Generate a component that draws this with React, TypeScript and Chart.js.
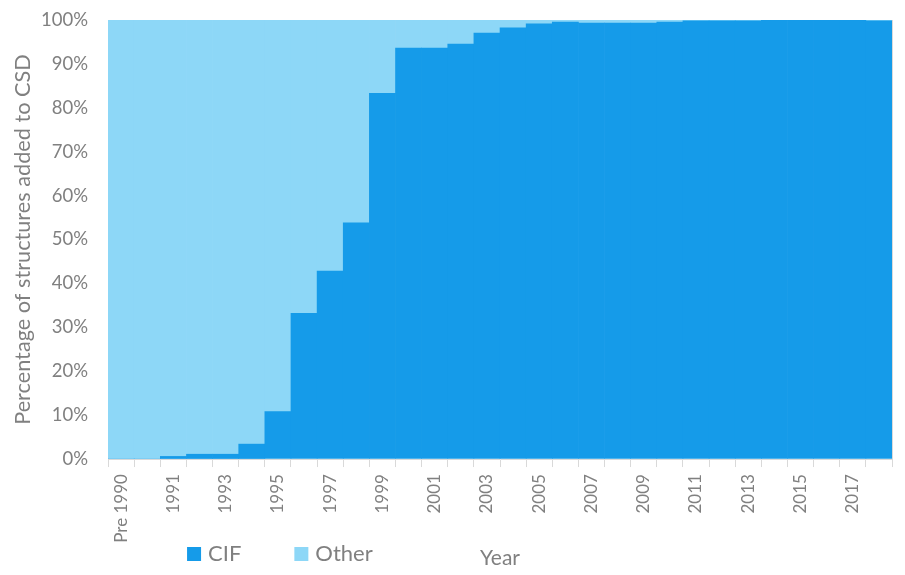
import React, { useEffect, useRef } from 'react';
import { Chart, registerables } from 'chart.js';

Chart.register(...registerables);

const categories = [
  'Pre 1990', '1990', '1991', '1992', '1993', '1994', '1995', '1996', '1997', '1998',
  '1999', '2000', '2001', '2002', '2003', '2004', '2005', '2006', '2007', '2008',
  '2009', '2010', '2011', '2012', '2013', '2014', '2015', '2016', '2017', '2018',
];

const cifValues = [
  0, 0, 0.6, 1.1, 1.1, 3.4, 10.8, 33.2, 42.8, 53.8,
  83.3, 93.6, 93.6, 94.5, 97.0, 98.2, 99.1, 99.5, 99.3, 99.3,
  99.3, 99.5, 99.8, 99.8, 99.8, 99.9, 99.9, 99.9, 99.9, 99.8,
];

const otherValues = [
  100, 100, 99.4, 98.9, 98.9, 96.6, 89.2, 66.8, 57.2, 46.2,
  16.7, 6.4, 6.4, 5.5, 3.0, 1.8, 0.9, 0.5, 0.7, 0.7,
  0.7, 0.5, 0.2, 0.2, 0.2, 0.1, 0.1, 0.1, 0.1, 0.2,
];

const seriesNames = ['CIF', 'Other'];
const seriesColors = ['#159be9', '#8dd7f7'];

const FONT = 'Lato';
const TEXT = '#808080';
const LINE = '#d9d9d9';

const customLegend = {
  id: 'customLegend',
  afterDraw(chart: any) {
    const ctx = chart.ctx;
    const area = chart.chartArea;
    ctx.save();
    ctx.font = `22px ${FONT}`;
    ctx.textBaseline = 'middle';
    ctx.textAlign = 'left';
    let x = area.left + 79;
    const y = 554;
    chart.data.datasets.forEach((ds: any) => {
      ctx.fillStyle = ds.backgroundColor;
      ctx.fillRect(x, y - 7, 14, 14);
      ctx.fillStyle = TEXT;
      ctx.fillText(ds.label, x + 21, y);
      x += 21 + ctx.measureText(ds.label).width + 53;
    });
    // right plot edge line
    ctx.strokeStyle = LINE;
    ctx.lineWidth = 1;
    ctx.beginPath();
    ctx.moveTo(Math.round(area.right) + 0.5, area.top);
    ctx.lineTo(Math.round(area.right) + 0.5, area.bottom);
    ctx.stroke();
    ctx.restore();
  },
};

export default function App() {
  const ref = useRef<HTMLCanvasElement>(null);

  useEffect(() => {
    if (!ref.current) return;
    const chart = new Chart(ref.current, {
      type: 'bar',
      data: {
        labels: categories,
        datasets: [
          { label: seriesNames[0], data: cifValues, backgroundColor: seriesColors[0], borderWidth: 0, barPercentage: 1, categoryPercentage: 1 },
          { label: seriesNames[1], data: otherValues, backgroundColor: seriesColors[1], borderWidth: 0, barPercentage: 1, categoryPercentage: 1 },
        ],
      },
      options: {
        animation: false,
        responsive: false,
        layout: { padding: { top: 20, right: 13, bottom: 4.4, left: 0 } },
        plugins: {
          legend: { display: false },
          tooltip: { enabled: false },
        },
        scales: {
          x: {
            stacked: true,
            offset: true,
            grid: { display: true, drawOnChartArea: false, offset: true, tickLength: 8, color: LINE },
            border: { display: true, color: LINE },
            ticks: {
              autoSkip: false,
              maxRotation: 90,
              minRotation: 90,
              padding: 7,
              color: TEXT,
              font: { family: FONT, size: 17, lineHeight: 1.1 },
              callback: (_v: any, i: number) => (i % 2 === 0 ? categories[i] : ''),
            },
            title: {
              display: true,
              text: 'Year',
              color: TEXT,
              font: { family: FONT, size: 21 },
              padding: { top: -4.3, bottom: 0 },
            },
          },
          y: {
            stacked: true,
            min: 0,
            max: 100,
            grid: {
              display: true,
              drawOnChartArea: false,
              drawTicks: true,
              tickLength: 17,
              tickColor: 'rgba(0,0,0,0)',
              color: LINE,
            },
            border: { display: true, color: LINE },
            ticks: {
              stepSize: 10,
              padding: 3,
              color: TEXT,
              font: { family: FONT, size: 18.5 },
              callback: (v: any) => `${v}%`,
            },
            title: {
              display: true,
              text: 'Percentage of structures added to CSD',
              color: TEXT,
              font: { family: FONT, size: 21.7 },
              padding: { top: 10, bottom: 2 },
            },
          },
        },
      },
      plugins: [customLegend],
    });
    return () => chart.destroy();
  }, []);

  return (
    <canvas
      ref={ref}
      width={905}
      height={575}
      style={{ position: 'fixed', left: 0, top: 0, display: 'block' }}
    />
  );
}
